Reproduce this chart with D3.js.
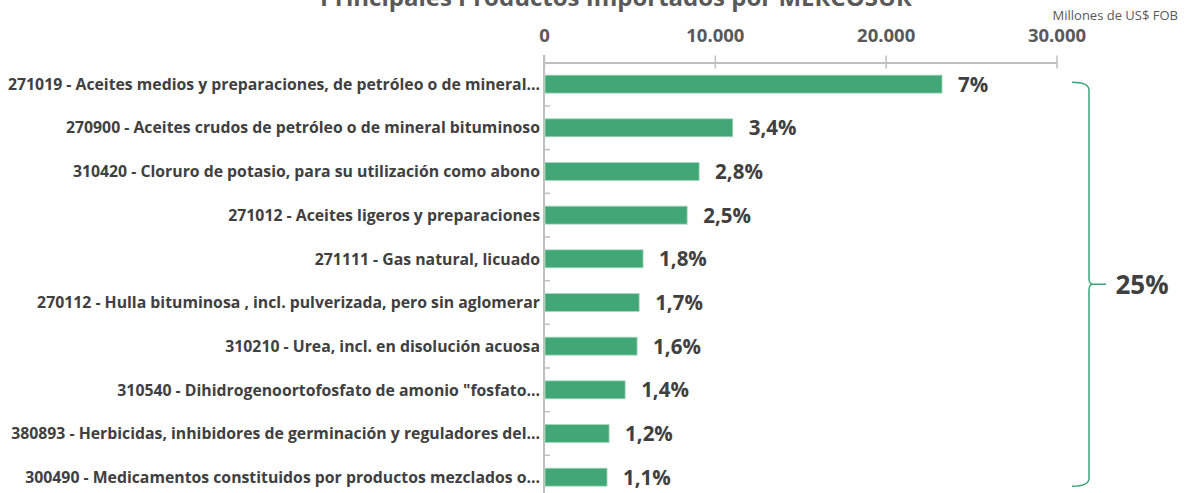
<!DOCTYPE html>
<html>
<head>
<meta charset="utf-8">
<script src="https://cdn.jsdelivr.net/npm/d3@7"></script>
<style>
  html, body { margin: 0; padding: 0; background: #fff; overflow: hidden; }
  svg { display: block; font-family: "Open Sans", sans-serif; }
</style>
</head>
<body>
<div id="chart"></div>
<script>
// Principales Productos Importados por MERCOSUR (millones US$ FOB)
const categories = [
    "271019 - Aceites medios y preparaciones, de petróleo o de mineral...",
    "270900 - Aceites crudos de petróleo o de mineral bituminoso",
    "310420 - Cloruro de potasio, para su utilización como abono",
    "271012 - Aceites ligeros y preparaciones",
    "271111 - Gas natural, licuado",
    "270112 - Hulla bituminosa , incl. pulverizada, pero sin aglomerar",
    "310210 - Urea, incl. en disolución acuosa",
    "310540 - Dihidrogenoortofosfato de amonio \"fosfato...",
    "380893 - Herbicidas, inhibidores de germinación y reguladores del...",
    "300490 - Medicamentos constituidos por productos mezclados o..."
];
const values = [23300, 11050, 9080, 8380, 5800, 5570, 5450, 4750, 3810, 3690];
const shares = ["7%", "3,4%", "2,8%", "2,5%", "1,8%", "1,7%", "1,6%", "1,4%", "1,2%", "1,1%"];
const xTicks = [0, 10000, 20000, 30000];
const totalShare = "25%";
const title = "Principales Productos Importados por MERCOSUR";
const unit = "Millones de US$ FOB";

(() => {
    const W = 1186, H = 493;
    const green = "#41a776", axisCol = "#bfbfbf", dark = "#404040", grey = "#595959";

    const svg = d3.select("#chart").append("svg").attr("width", W).attr("height", H);

    const x = d3.scaleLinear().domain([0, 30000]).range([544, 1056.5]);
    const y = d3.scaleBand().domain(categories).range([62.3, 499]).paddingInner(0.588).paddingOuter(0.294);
    const fmt = d3.formatLocale({ decimal: ",", thousands: ".", grouping: [3], currency: ["", ""] }).format(",");

    // title + unit (title is clipped at the top, as in the source)
    svg.append("text").attr("x", 616).attr("y", 6).attr("text-anchor", "middle")
        .attr("font-size", 24).attr("font-weight", 700).attr("fill", grey).text(title);
    svg.append("text").attr("x", 1178).attr("y", 20).attr("text-anchor", "end")
        .attr("font-size", 13).attr("fill", grey).text(unit);

    // x axis on top
    const xAxis = svg.append("g").attr("transform", "translate(0,62.5)")
        .call(d3.axisTop(x).tickValues(xTicks).tickFormat(fmt).tickSizeInner(7).tickSizeOuter(0).tickPadding(14));
    xAxis.select(".domain").attr("stroke", axisCol).attr("stroke-width", 2);
    xAxis.selectAll(".tick line").attr("stroke", axisCol).attr("stroke-width", 1.5).attr("y2", 6).attr("y1", -7);
    xAxis.selectAll(".tick text").attr("fill", grey).attr("font-size", 18.5).attr("font-weight", 700)
        .attr("font-family", "Open Sans, sans-serif");

    // y axis
    svg.append("line").attr("x1", x(0)).attr("x2", x(0)).attr("y1", 55).attr("y2", H)
        .attr("stroke", axisCol).attr("stroke-width", 2);
    const step = y.step();
    svg.append("g").selectAll("line").data(categories.slice(1)).join("line")
        .attr("x1", x(0)).attr("x2", x(0) + 6)
        .attr("y1", d => y(d) - (step - y.bandwidth()) / 2)
        .attr("y2", d => y(d) - (step - y.bandwidth()) / 2)
        .attr("stroke", axisCol).attr("stroke-width", 1.5);

    svg.append("g").selectAll("text").data(categories).join("text")
        .attr("x", 540).attr("y", d => y(d) + y.bandwidth() / 2).attr("dy", "0.36em")
        .attr("text-anchor", "end").attr("font-size", 15.8).attr("font-weight", 700).attr("fill", dark)
        .text(d => d);

    // bars
    svg.append("g").selectAll("rect").data(values).join("rect")
        .attr("x", x(0) + 1).attr("y", (d, i) => y(categories[i]))
        .attr("width", d => x(d) - x(0) - 1).attr("height", y.bandwidth())
        .attr("fill", green).attr("stroke", "#a8d9bf").attr("stroke-width", 0.8);

    svg.append("g").selectAll("text").data(values).join("text")
        .attr("x", d => x(d) + 16).attr("y", (d, i) => y(categories[i]) + y.bandwidth() / 2).attr("dy", "0.36em")
        .attr("font-size", 20.5).attr("font-weight", 700).attr("fill", dark)
        .text((d, i) => shares[i]);

    // bracket with total share
    const top = y(categories[0]) + 7, bot = y(categories[categories.length - 1]) + y.bandwidth();
    const bx = 1089, mid = (top + bot) / 2;
    const p = d3.path();
    p.moveTo(1072, top); p.quadraticCurveTo(bx, top, bx, top + 8);
    p.lineTo(bx, mid - 6); p.quadraticCurveTo(bx, mid, bx + 4, mid); p.lineTo(1106, mid);
    p.moveTo(bx + 4, mid); p.quadraticCurveTo(bx, mid, bx, mid + 6);
    p.lineTo(bx, bot - 8); p.quadraticCurveTo(bx, bot, 1072, bot);
    svg.append("path").attr("d", p.toString()).attr("fill", "none").attr("stroke", "#3aa57a").attr("stroke-width", 1.5);

    svg.append("text").attr("x", 1142).attr("y", mid).attr("dy", "0.36em").attr("text-anchor", "middle")
        .attr("font-size", 26).attr("font-weight", 700).attr("fill", dark).text(totalShare);
})();
</script>
</body>
</html>
